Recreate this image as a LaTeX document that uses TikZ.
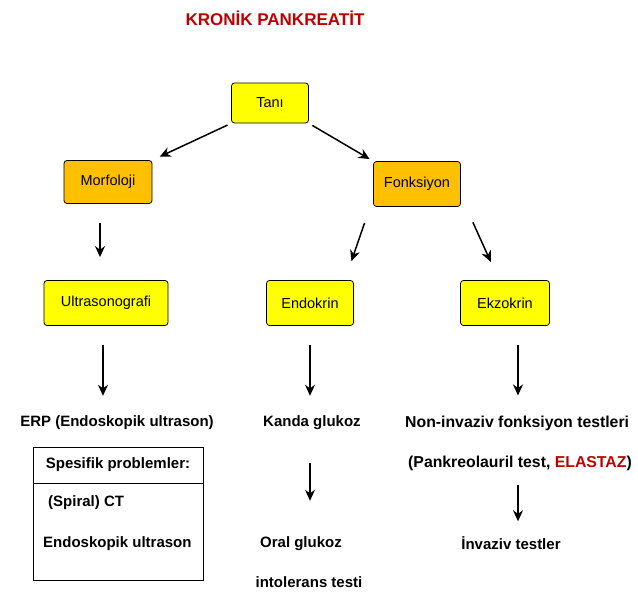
\documentclass[tikz,border=0pt]{standalone}
\usepackage{fontspec}
\setmainfont{Liberation Sans}
\usetikzlibrary{arrows.meta}
\definecolor{boxyellow}{HTML}{FFFF00}
\definecolor{boxorange}{HTML}{FFC000}
\definecolor{titlered}{HTML}{C00000}
\tikzset{
  kutu/.style={draw=black, thick, rounded corners=3pt, inner sep=0pt, font=\fontsize{14.5}{17}\selectfont},
  sari/.style={kutu, fill=boxyellow},
  turuncu/.style={kutu, fill=boxorange},
  yazi/.style={font=\bfseries\fontsize{15}{18}\selectfont, inner sep=0pt},
  genis/.style={font=\bfseries\fontsize{15.8}{18}\selectfont},
  ok/.style={-{Stealth[length=11pt, width=10pt]}, line width=1.5pt},
}
\begin{document}
\begin{tikzpicture}[x=1pt, y=-1pt]
\useasboundingbox (0, 0) rectangle (638, 593);
%Baslik
\node[font=\bfseries\fontsize{17}{20}\selectfont, text=titlered] (baslik) at (275, 18) {KRONİK PANKREATİT};
%Kutular
\node[sari, minimum width=77pt, minimum height=40pt] (tani) at (270, 103) {Tanı};
\node[turuncu, minimum width=88pt, minimum height=43pt] (morfoloji) at (108, 182) {Morfoloji};
\node[turuncu, minimum width=87pt, minimum height=45pt] (fonksiyon) at (417, 184) {Fonksiyon};
\node[sari, minimum width=124pt, minimum height=45pt] (ultra) at (106, 303) {Ultrasonografi};
\node[sari, minimum width=87pt, minimum height=45pt] (endokrin) at (310, 303) {Endokrin};
\node[sari, minimum width=89pt, minimum height=45pt] (ekzokrin) at (505, 303) {Ekzokrin};
%Alt satirlar
\node[yazi] (erp) at (117, 423) {ERP (Endoskopik ultrason)};
\draw[thick] (33, 447) rectangle (203, 580);
\draw[thick] (33, 483) -- (203, 483);
\node[yazi] (spesifik) at (118, 465) {Spesifik problemler:};
\node[yazi, anchor=west] (ct) at (48, 503) {(Spiral) CT};
\node[yazi, anchor=west] (endo) at (43, 544) {Endoskopik ultrason};
\node[yazi] (kanda) at (312, 423) {Kanda glukoz};
\node[yazi] (oral) at (301, 544) {Oral glukoz};
\node[yazi] (intol) at (309, 582) {intolerans testi};
\node[yazi, genis, anchor=west] (noninv) at (405, 423) {Non-invaziv fonksiyon testleri};
\node[yazi, genis, anchor=west] (pankreo) at (408, 463) {(Pankreolauril test, \textcolor{titlered}{ELASTAZ})};
\node[yazi] (invaziv) at (511, 543) {İnvaziv testler};
%Oklar
\draw[ok, shorten <=4pt, shorten >=8pt] (tani.south west) -- (morfoloji.north east);
\draw[ok, shorten <=4pt, shorten >=4pt] (tani.south east) -- (fonksiyon.north west);
\draw[ok, shorten <=19pt, shorten >=23pt] ([xshift=-6pt]morfoloji.south -| ultra.north) -- ([xshift=-6pt]ultra.north);
\draw[ok, shorten <=17pt, shorten >=20pt] ([xshift=-3pt]fonksiyon.south west) -- ([xshift=-9pt]endokrin.north east);
\draw[ok, shorten <=17pt, shorten >=20pt] ([xshift=5pt]fonksiyon.south east) -- ([xshift=-6pt]ekzokrin.north);
\draw[ok, shorten <=19pt, shorten >=20pt] ([xshift=-3pt]ultra.south) -- ([xshift=-3pt]ultra.south |- erp.north);
\draw[ok, shorten <=19pt, shorten >=20pt] (endokrin.south) -- (endokrin.south |- kanda.north);
\draw[ok, shorten <=19pt, shorten >=20pt] ([xshift=13pt]ekzokrin.south) -- ([xshift=13pt]ekzokrin.south |- noninv.north);
\draw[ok, shorten <=33pt, shorten >=36pt] (endokrin.south |- kanda.south) -- (endokrin.south |- oral.north);
\draw[ok, shorten <=14pt, shorten >=15pt] ([xshift=13pt]ekzokrin.south |- pankreo.south) -- ([xshift=13pt]ekzokrin.south |- invaziv.north);
\end{tikzpicture}
\end{document}
